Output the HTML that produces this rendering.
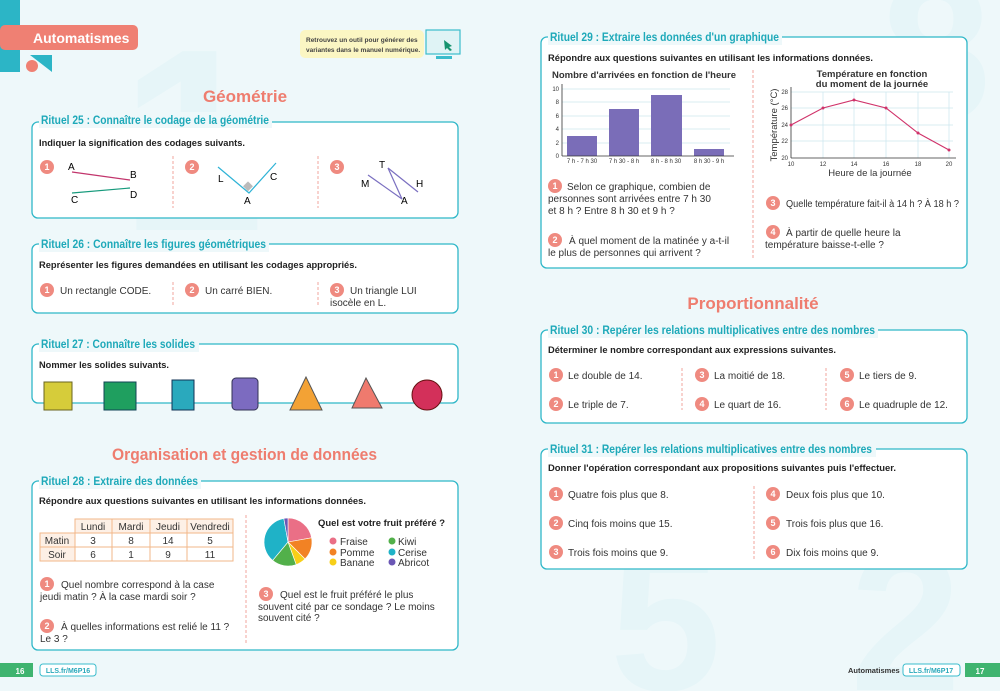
<!DOCTYPE html>
<html><head><meta charset="utf-8"><style>
html,body{margin:0;padding:0;background:#eef8fa;overflow:hidden;width:1000px;height:691px}
svg{display:block}
text{font-family:"Liberation Sans",sans-serif}
.t{fill:#1ea9b9;font-weight:bold;font-size:12px}
.b{fill:#222;font-weight:bold;font-size:9.5px}
.n{fill:#333;font-size:10px}
.h{fill:#ee7d6f;font-weight:bold;font-size:17px}
.bx{fill:#fff;stroke:#2fb7c8;stroke-width:1.3}
.bn{fill:#fff;font-weight:bold;font-size:9px}
.sq{stroke:#f0a59c;stroke-width:1;fill:none;stroke-dasharray:3 2}
</style></head><body>
<svg width="1000" height="691" viewBox="0 0 1000 691" xmlns="http://www.w3.org/2000/svg">
<defs>
<g id="bd"><circle r="7" fill="#ef8a80"/></g>
</defs>
<rect width="1000" height="691" fill="#eef8fa"/>
<g font-weight="bold" font-family="Liberation Sans" fill="#e6f5f8">
<text x="120" y="230" font-size="260">1</text>
<text x="610" y="690" font-size="200">5</text>
<text x="850" y="690" font-size="200">2</text>
<text x="880" y="120" font-size="200">8</text>
</g>
<!-- header -->
<rect x="0" y="0" width="20" height="72" fill="#2cb5c6"/>
<path d="M30 55 L52 55 L52 72 Z" fill="#2cb5c6"/>
<rect x="0" y="25" width="138" height="25" rx="5" fill="#ef8073"/>
<text x="33" y="43" font-size="14" font-weight="bold" fill="#fff">Automatismes</text>
<circle cx="32" cy="66" r="6" fill="#ef8073"/>
<rect x="300" y="30" width="124" height="28" rx="5" fill="#fbf6c3"/>
<text x="306" y="42" font-size="6.5" font-weight="bold" fill="#444">Retrouvez un outil pour générer des</text>
<text x="306" y="52" font-size="6.5" font-weight="bold" fill="#444">variantes dans le manuel numérique.</text>
<rect x="426" y="30" width="34" height="24" fill="#dff3f5" stroke="#3bbccc" stroke-width="1.2"/>
<rect x="436" y="56" width="16" height="3" fill="#3bbccc"/>
<path d="M444 40 l8 6 -3 1 3 3 -2 1 -3-3 -2 2z" fill="#15936e"/>

<text x="245" y="102" text-anchor="middle" class="h">Géométrie</text>
<!-- R25 -->
<rect x="32" y="122" width="426" height="96" rx="6" class="bx"/>
<rect x="39" y="112" width="233" height="16" fill="#eef8fa"/>
<text x="41" y="124" class="t" textLength="228" lengthAdjust="spacingAndGlyphs">Rituel 25 : Connaître le codage de la géométrie</text>
<text x="39" y="146" class="b" textLength="206" lengthAdjust="spacingAndGlyphs">Indiquer la signification des codages suivants.</text>
<use href="#bd" x="47" y="167"/><text x="47" y="170" text-anchor="middle" class="bn">1</text>
<line x1="72" y1="172" x2="130" y2="180" stroke="#c2356c" stroke-width="1.2"/>
<line x1="72" y1="193" x2="130" y2="188" stroke="#169a7c" stroke-width="1.2"/>
<text x="68" y="170" font-size="10" font-family="Liberation Serif">A</text>
<text x="130" y="178" font-size="10" font-family="Liberation Serif">B</text>
<text x="71" y="203" font-size="10" font-family="Liberation Serif">C</text>
<text x="130" y="198" font-size="10" font-family="Liberation Serif">D</text>
<line x1="173" y1="156" x2="173" y2="208" class="sq"/>
<use href="#bd" x="192" y="167"/><text x="192" y="170" text-anchor="middle" class="bn">2</text>
<polyline points="218,167 249,193 276,163" fill="none" stroke="#2fb3d6" stroke-width="1.2"/>
<rect x="244" y="183" width="7" height="7" fill="#bbb" transform="rotate(45 248 187)"/>
<text x="218" y="182" font-size="10" font-family="Liberation Serif">L</text>
<text x="270" y="180" font-size="10" font-family="Liberation Serif">C</text>
<text x="244" y="204" font-size="10" font-family="Liberation Serif">A</text>
<line x1="318" y1="156" x2="318" y2="208" class="sq"/>
<use href="#bd" x="337" y="167"/><text x="337" y="170" text-anchor="middle" class="bn">3</text>
<line x1="368" y1="175" x2="402" y2="199" stroke="#7a6fc0" stroke-width="1.2"/>
<line x1="388" y1="168" x2="418" y2="192" stroke="#7a6fc0" stroke-width="1.2"/>
<line x1="388" y1="168" x2="402" y2="199" stroke="#7a6fc0" stroke-width="1.2"/>
<text x="379" y="168" font-size="10" font-family="Liberation Serif">T</text>
<text x="361" y="187" font-size="10" font-family="Liberation Serif">M</text>
<text x="416" y="187" font-size="10" font-family="Liberation Serif">H</text>
<text x="401" y="204" font-size="10" font-family="Liberation Serif">A</text>

<!-- R26 -->
<rect x="32" y="244" width="426" height="69" rx="6" class="bx"/>
<rect x="39" y="236" width="230" height="16" fill="#eef8fa"/>
<text x="41" y="248" class="t" textLength="225" lengthAdjust="spacingAndGlyphs">Rituel 26 : Connaître les figures géométriques</text>
<text x="39" y="268" class="b" textLength="318" lengthAdjust="spacingAndGlyphs">Représenter les figures demandées en utilisant les codages appropriés.</text>
<use href="#bd" x="47" y="290"/><text x="47" y="293" text-anchor="middle" class="bn">1</text>
<text x="60" y="294" class="n">Un rectangle CODE.</text>
<line x1="173" y1="282" x2="173" y2="305" class="sq"/>
<use href="#bd" x="192" y="290"/><text x="192" y="293" text-anchor="middle" class="bn">2</text>
<text x="205" y="294" class="n">Un carré BIEN.</text>
<line x1="318" y1="282" x2="318" y2="305" class="sq"/>
<use href="#bd" x="337" y="290"/><text x="337" y="293" text-anchor="middle" class="bn">3</text>
<text x="350" y="294" class="n">Un triangle LUI</text>
<text x="330" y="306" class="n">isocèle en L.</text>

<!-- R27 -->
<rect x="32" y="344" width="426" height="59" rx="6" class="bx"/>
<rect x="39" y="336" width="160" height="16" fill="#eef8fa"/>
<text x="41" y="348" class="t" textLength="154" lengthAdjust="spacingAndGlyphs">Rituel 27 : Connaître les solides</text>
<text x="39" y="368" class="b" textLength="130" lengthAdjust="spacingAndGlyphs">Nommer les solides suivants.</text>
<rect x="44" y="382" width="28" height="28" fill="#d6cc3a" stroke="#6a6520"/>
<rect x="104" y="382" width="32" height="28" fill="#1f9f5f" stroke="#145"/>
<rect x="172" y="380" width="22" height="30" fill="#2aa9bd" stroke="#135"/>
<rect x="232" y="378" width="26" height="32" rx="4" fill="#7c6bc0" stroke="#335"/>
<polygon points="306,377 290,410 322,410" fill="#f3a235" stroke="#555"/>
<polygon points="366,378 352,408 382,408" fill="#ef7a6e" stroke="#555"/>
<circle cx="427" cy="395" r="15" fill="#d3305a" stroke="#611"/>

<text x="112" y="460" class="h" textLength="265" lengthAdjust="spacingAndGlyphs">Organisation et gestion de données</text>
<!-- R28 -->
<rect x="32" y="481" width="426" height="169" rx="6" class="bx"/>
<rect x="39" y="473" width="162" height="16" fill="#eef8fa"/>
<text x="41" y="485" class="t" textLength="157" lengthAdjust="spacingAndGlyphs">Rituel 28 : Extraire des données</text>
<text x="39" y="504" class="b" textLength="327" lengthAdjust="spacingAndGlyphs">Répondre aux questions suivantes en utilisant les informations données.</text>
<g stroke="#f2b789" stroke-width="1">
<rect x="75" y="519" width="158" height="14" fill="#fdf0e6"/>
<rect x="40" y="533" width="35" height="28" fill="#fdf0e6"/>
<rect x="75" y="533" width="158" height="28" fill="#fff"/>
<line x1="40" y1="547" x2="233" y2="547"/>
<line x1="112" y1="519" x2="112" y2="561"/><line x1="150" y1="519" x2="150" y2="561"/><line x1="187" y1="519" x2="187" y2="561"/>
</g>
<g font-size="10" fill="#333" text-anchor="middle">
<text x="93" y="530">Lundi</text><text x="131" y="530">Mardi</text><text x="168" y="530">Jeudi</text><text x="210" y="530">Vendredi</text>
<text x="57" y="544">Matin</text><text x="93" y="544">3</text><text x="131" y="544">8</text><text x="168" y="544">14</text><text x="210" y="544">5</text>
<text x="57" y="558">Soir</text><text x="93" y="558">6</text><text x="131" y="558">1</text><text x="168" y="558">9</text><text x="210" y="558">11</text>
</g>
<use href="#bd" x="47" y="584"/><text x="47" y="587" text-anchor="middle" class="bn">1</text>
<text x="61" y="588" class="n">Quel nombre correspond à la case</text>
<text x="40" y="600" class="n">jeudi matin ? À la case mardi soir ?</text>
<use href="#bd" x="47" y="626"/><text x="47" y="629" text-anchor="middle" class="bn">2</text>
<text x="61" y="630" class="n">À quelles informations est relié le 11 ?</text>
<text x="40" y="642" class="n">Le 3 ?</text>
<line x1="246" y1="515" x2="246" y2="645" class="sq"/>
<g transform="translate(288 542)" stroke="#fff" stroke-width="0.6">
<path d="M0 0 L0 -24 A24 24 0 0 1 23.6 -4.2 Z" fill="#ea6f86"/>
<path d="M0 0 L23.6 -4.2 A24 24 0 0 1 17 17 Z" fill="#f28224"/>
<path d="M0 0 L17 17 A24 24 0 0 1 8.2 22.6 Z" fill="#f7cf18"/>
<path d="M0 0 L8.2 22.6 A24 24 0 0 1 -15.4 18.4 Z" fill="#52b04a"/>
<path d="M0 0 L-15.4 18.4 A24 24 0 0 1 -4.2 -23.6 Z" fill="#1fb2c7"/>
<path d="M0 0 L-4.2 -23.6 A24 24 0 0 1 0 -24 Z" fill="#6b57b5"/>
</g>
<text x="318" y="526" class="b" textLength="127" lengthAdjust="spacingAndGlyphs">Quel est votre fruit préféré ?</text>
<g font-size="10" fill="#333">
<circle cx="333" cy="541" r="3.5" fill="#ea6f86"/><text x="340" y="545">Fraise</text>
<circle cx="333" cy="552" r="3.5" fill="#f28224"/><text x="340" y="556">Pomme</text>
<circle cx="333" cy="562" r="3.5" fill="#f7cf18"/><text x="340" y="566">Banane</text>
<circle cx="392" cy="541" r="3.5" fill="#52b04a"/><text x="398" y="545">Kiwi</text>
<circle cx="392" cy="552" r="3.5" fill="#1fb2c7"/><text x="398" y="556">Cerise</text>
<circle cx="392" cy="562" r="3.5" fill="#6b57b5"/><text x="398" y="566">Abricot</text>
</g>
<use href="#bd" x="266" y="594"/><text x="266" y="597" text-anchor="middle" class="bn">3</text>
<text x="280" y="598" class="n">Quel est le fruit préféré le plus</text>
<text x="258" y="610" class="n">souvent cité par ce sondage ? Le moins</text>
<text x="258" y="621" class="n">souvent cité ?</text>

<rect x="0" y="663" width="33" height="14" fill="#3fb46f"/>
<text x="20" y="674" font-size="8" font-weight="bold" fill="#fff" text-anchor="middle">16</text>
<rect x="40" y="664" width="56" height="12" rx="3" fill="#fff" stroke="#3bbccc"/>
<text x="68" y="673" font-size="7" fill="#2aa9bb" text-anchor="middle" font-weight="bold">LLS.fr/M6P16</text>

<!-- R29 -->
<rect x="541" y="37" width="426" height="231" rx="6" class="bx"/>
<rect x="548" y="29" width="234" height="16" fill="#eef8fa"/>
<text x="550" y="41" class="t" textLength="229" lengthAdjust="spacingAndGlyphs">Rituel 29 : Extraire les données d'un graphique</text>
<text x="548" y="61" class="b" textLength="325" lengthAdjust="spacingAndGlyphs">Répondre aux questions suivantes en utilisant les informations données.</text>
<text x="552" y="78" font-size="9.5" font-weight="bold" fill="#333">Nombre d'arrivées en fonction de l'heure</text>
<g stroke="#cbe6ee" stroke-width="0.7">
<line x1="562" y1="89" x2="730" y2="89"/><line x1="562" y1="102" x2="730" y2="102"/><line x1="562" y1="116" x2="730" y2="116"/><line x1="562" y1="129" x2="730" y2="129"/><line x1="562" y1="143" x2="730" y2="143"/>
</g>
<g fill="#7a6db8">
<rect x="567" y="136" width="30" height="20"/><rect x="609" y="109" width="30" height="47"/><rect x="651" y="95" width="31" height="61"/><rect x="694" y="149" width="30" height="7"/>
</g>
<line x1="562" y1="84" x2="562" y2="156" stroke="#333" stroke-width="0.8"/><line x1="562" y1="156" x2="734" y2="156" stroke="#333" stroke-width="0.8"/>
<g font-size="6" fill="#333" text-anchor="end">
<text x="559" y="91">10</text><text x="559" y="104">8</text><text x="559" y="118">6</text><text x="559" y="131">4</text><text x="559" y="145">2</text><text x="559" y="158">0</text>
</g>
<g font-size="6" fill="#333" text-anchor="middle">
<text x="582" y="163">7 h - 7 h 30</text><text x="624" y="163">7 h 30 - 8 h</text><text x="666" y="163">8 h - 8 h 30</text><text x="709" y="163">8 h 30 - 9 h</text>
</g>
<line x1="753" y1="70" x2="753" y2="258" class="sq"/>
<text x="872" y="77" font-size="9.5" font-weight="bold" fill="#333" text-anchor="middle">Température en fonction</text>
<text x="872" y="87" font-size="9.5" font-weight="bold" fill="#333" text-anchor="middle">du moment de la journée</text>
<g stroke="#cbe6ee" stroke-width="0.7">
<line x1="791" y1="92" x2="953" y2="92"/><line x1="791" y1="108" x2="953" y2="108"/><line x1="791" y1="125" x2="953" y2="125"/><line x1="791" y1="141" x2="953" y2="141"/>
<line x1="823" y1="92" x2="823" y2="158"/><line x1="854" y1="92" x2="854" y2="158"/><line x1="886" y1="92" x2="886" y2="158"/><line x1="918" y1="92" x2="918" y2="158"/><line x1="949" y1="92" x2="949" y2="158"/>
</g>
<line x1="791" y1="87" x2="791" y2="158" stroke="#333" stroke-width="0.8"/><line x1="791" y1="158" x2="956" y2="158" stroke="#333" stroke-width="0.8"/>
<polyline points="791,125 823,108 854,100 886,108 918,133 949,150" fill="none" stroke="#d0336a" stroke-width="1.1"/>
<g fill="#d0336a"><circle cx="791" cy="125" r="1.5"/><circle cx="823" cy="108" r="1.5"/><circle cx="854" cy="100" r="1.5"/><circle cx="886" cy="108" r="1.5"/><circle cx="918" cy="133" r="1.5"/><circle cx="949" cy="150" r="1.5"/></g>
<g font-size="6" fill="#333" text-anchor="end">
<text x="788" y="94">28</text><text x="788" y="110">26</text><text x="788" y="127">24</text><text x="788" y="143">22</text><text x="788" y="160">20</text>
</g>
<g font-size="6" fill="#333" text-anchor="middle">
<text x="791" y="166">10</text><text x="823" y="166">12</text><text x="854" y="166">14</text><text x="886" y="166">16</text><text x="918" y="166">18</text><text x="949" y="166">20</text>
</g>
<text x="870" y="176" font-size="9.5" fill="#333" text-anchor="middle">Heure de la journée</text>
<text transform="translate(777 125) rotate(-90)" font-size="9.5" fill="#333" text-anchor="middle">Température (°C)</text>
<use href="#bd" x="555" y="186"/><text x="555" y="189" text-anchor="middle" class="bn">1</text>
<text x="567" y="190" class="n">Selon ce graphique, combien de</text>
<text x="548" y="202" class="n">personnes sont arrivées entre 7 h 30</text>
<text x="548" y="214" class="n">et 8 h ? Entre 8 h 30 et 9 h ?</text>
<use href="#bd" x="555" y="240"/><text x="555" y="243" text-anchor="middle" class="bn">2</text>
<text x="569" y="244" class="n">À quel moment de la matinée y a-t-il</text>
<text x="548" y="256" class="n">le plus de personnes qui arrivent ?</text>
<use href="#bd" x="773" y="203"/><text x="773" y="206" text-anchor="middle" class="bn">3</text>
<text x="786" y="207" class="n" textLength="173" lengthAdjust="spacingAndGlyphs">Quelle température fait-il à 14 h ? À 18 h ?</text>
<use href="#bd" x="773" y="232"/><text x="773" y="235" text-anchor="middle" class="bn">4</text>
<text x="786" y="236" class="n">À partir de quelle heure la</text>
<text x="765" y="248" class="n">température baisse-t-elle ?</text>

<text x="753" y="309" text-anchor="middle" class="h">Proportionnalité</text>
<!-- R30 -->
<rect x="541" y="330" width="426" height="93" rx="6" class="bx"/>
<rect x="548" y="322" width="330" height="16" fill="#eef8fa"/>
<text x="550" y="334" class="t" textLength="325" lengthAdjust="spacingAndGlyphs">Rituel 30 : Repérer les relations multiplicatives entre des nombres</text>
<text x="548" y="353" class="b" textLength="288" lengthAdjust="spacingAndGlyphs">Déterminer le nombre correspondant aux expressions suivantes.</text>
<use href="#bd" x="556" y="375"/><text x="556" y="378" text-anchor="middle" class="bn">1</text><text x="568" y="379" class="n">Le double de 14.</text>
<use href="#bd" x="556" y="404"/><text x="556" y="407" text-anchor="middle" class="bn">2</text><text x="568" y="408" class="n">Le triple de 7.</text>
<use href="#bd" x="702" y="375"/><text x="702" y="378" text-anchor="middle" class="bn">3</text><text x="714" y="379" class="n">La moitié de 18.</text>
<use href="#bd" x="702" y="404"/><text x="702" y="407" text-anchor="middle" class="bn">4</text><text x="714" y="408" class="n">Le quart de 16.</text>
<use href="#bd" x="847" y="375"/><text x="847" y="378" text-anchor="middle" class="bn">5</text><text x="859" y="379" class="n">Le tiers de 9.</text>
<use href="#bd" x="847" y="404"/><text x="847" y="407" text-anchor="middle" class="bn">6</text><text x="859" y="408" class="n">Le quadruple de 12.</text>
<line x1="682" y1="368" x2="682" y2="410" class="sq"/><line x1="826" y1="368" x2="826" y2="410" class="sq"/>
<!-- R31 -->
<rect x="541" y="449" width="426" height="120" rx="6" class="bx"/>
<rect x="548" y="441" width="328" height="16" fill="#eef8fa"/>
<text x="550" y="453" class="t" textLength="322" lengthAdjust="spacingAndGlyphs">Rituel 31 : Repérer les relations multiplicatives entre des nombres</text>
<text x="548" y="471" class="b" textLength="348" lengthAdjust="spacingAndGlyphs">Donner l'opération correspondant aux propositions suivantes puis l'effectuer.</text>
<use href="#bd" x="556" y="494"/><text x="556" y="497" text-anchor="middle" class="bn">1</text><text x="568" y="498" class="n">Quatre fois plus que 8.</text>
<use href="#bd" x="556" y="523"/><text x="556" y="526" text-anchor="middle" class="bn">2</text><text x="568" y="527" class="n">Cinq fois moins que 15.</text>
<use href="#bd" x="556" y="552"/><text x="556" y="555" text-anchor="middle" class="bn">3</text><text x="568" y="556" class="n">Trois fois moins que 9.</text>
<use href="#bd" x="773" y="494"/><text x="773" y="497" text-anchor="middle" class="bn">4</text><text x="786" y="498" class="n">Deux fois plus que 10.</text>
<use href="#bd" x="773" y="523"/><text x="773" y="526" text-anchor="middle" class="bn">5</text><text x="786" y="527" class="n">Trois fois plus que 16.</text>
<use href="#bd" x="773" y="552"/><text x="773" y="555" text-anchor="middle" class="bn">6</text><text x="786" y="556" class="n">Dix fois moins que 9.</text>
<line x1="754" y1="486" x2="754" y2="560" class="sq"/>

<text x="848" y="673" font-size="7.5" font-weight="bold" fill="#333">Automatismes</text>
<rect x="903" y="664" width="57" height="12" rx="3" fill="#fff" stroke="#3bbccc"/>
<text x="931" y="673" font-size="7" fill="#2aa9bb" text-anchor="middle" font-weight="bold">LLS.fr/M6P17</text>
<rect x="965" y="663" width="35" height="14" fill="#3fb46f"/>
<text x="980" y="674" font-size="8" font-weight="bold" fill="#fff" text-anchor="middle">17</text>
</svg>
</body></html>
